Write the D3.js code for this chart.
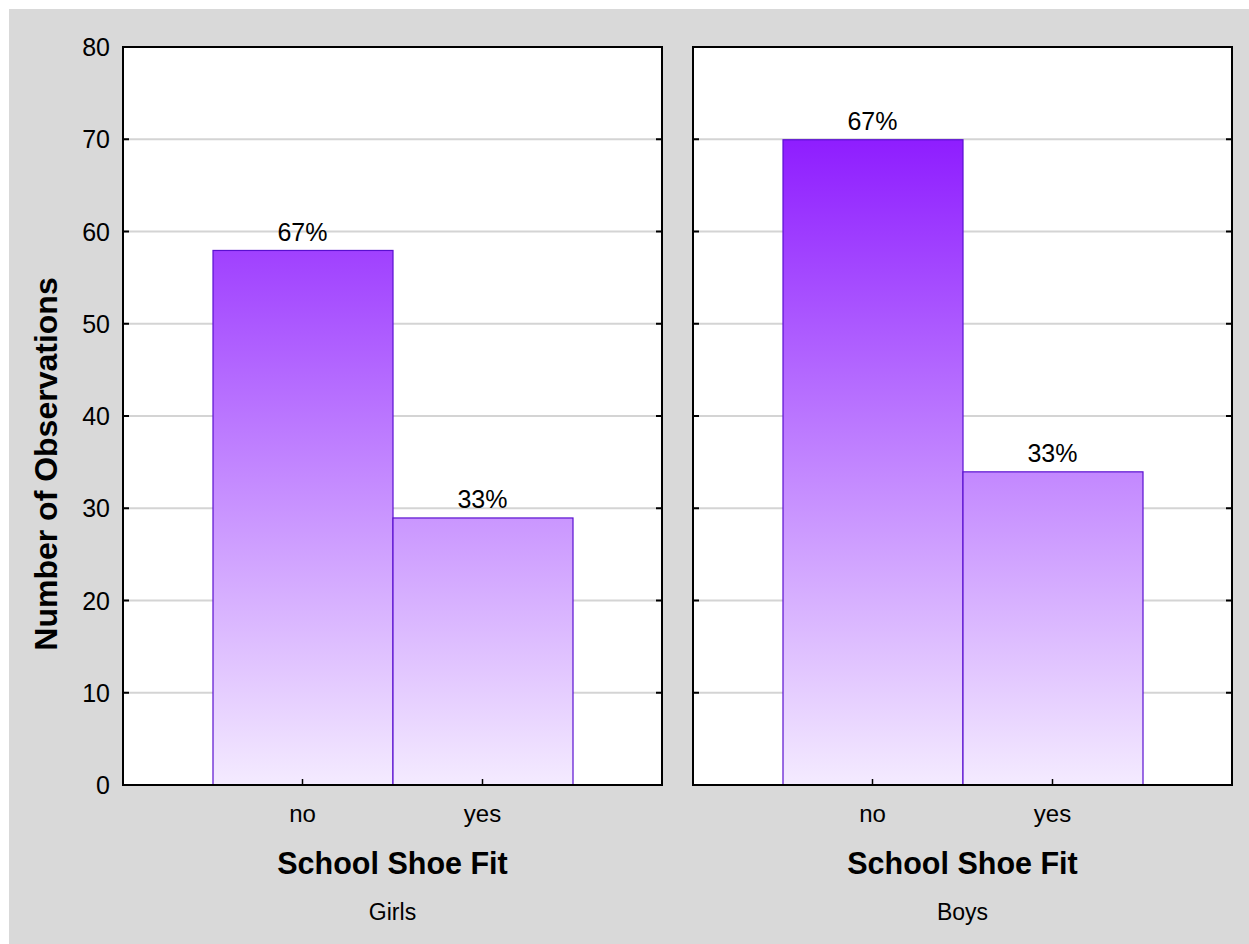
<!DOCTYPE html>
<html>
<head>
<meta charset="utf-8">
<script src="https://cdn.jsdelivr.net/npm/d3@7/dist/d3.min.js"></script>
<style>
  html, body { margin: 0; padding: 0; background: #ffffff; }
  svg { display: block; }
  text { font-family: "Liberation Sans", Arial, sans-serif; fill: #000; }
</style>
</head>
<body>
<svg id="chart" width="1249" height="944"></svg>
<script>
const panels = ["Girls", "Boys"];
const categories = ["no", "yes"];
const girlsValues = [58, 29];
const boysValues = [70, 34];
const percentLabels = [["67%", "33%"], ["67%", "33%"]];
const yTicks = [0, 10, 20, 30, 40, 50, 60, 70, 80];
const xTitle = "School Shoe Fit";
const yTitle = "Number of Observations";

(function () {
const seriesByPanel = [girlsValues, boysValues];

const svg = d3.select("#chart");
const W = 1249, H = 944;

svg.append("rect").attr("x", 9).attr("y", 9).attr("width", W - 9).attr("height", H - 9).attr("fill", "#d9d9d9");

const plotTop = 47, plotBottom = 785;
const y = d3.scaleLinear().domain([0, 80]).range([plotBottom, plotTop]);
const px = d3.scaleBand().domain(panels).range([123, 1232]).paddingInner(31 / 570);

const defs = svg.append("defs");
const grad = defs.append("linearGradient").attr("id", "barGrad")
  .attr("gradientUnits", "userSpaceOnUse")
  .attr("x1", 0).attr("x2", 0).attr("y1", y(80)).attr("y2", y(0));
grad.append("stop").attr("offset", "0%").attr("stop-color", "#8000ff");
grad.append("stop").attr("offset", "100%").attr("stop-color", "#f4ebff");

panels.forEach((p, pi) => {
  const x0 = px(p), bw = px.bandwidth();
  const cx = x0 + bw / 2;
  const xb = d3.scaleBand().domain(categories).range([cx - 180, cx + 180]).padding(0);
  const g = svg.append("g");

  g.append("rect").attr("x", x0).attr("y", plotTop).attr("width", bw).attr("height", plotBottom - plotTop).attr("fill", "#ffffff");

  g.selectAll("line.grid").data(yTicks.filter(t => t > 0 && t < 80)).enter().append("line")
    .attr("x1", x0).attr("x2", x0 + bw).attr("y1", d => y(d)).attr("y2", d => y(d))
    .attr("stroke", "#d4d4d4").attr("stroke-width", 2);

  const vals = seriesByPanel[pi];
  g.selectAll("rect.bar").data(categories).enter().append("rect")
    .attr("x", d => xb(d) + 0.5).attr("y", (d, i) => y(vals[i]) + 0.5)
    .attr("width", xb.bandwidth()).attr("height", (d, i) => y(0) - y(vals[i]) - 0.5)
    .attr("fill", "url(#barGrad)").attr("stroke", "#5a10d0").attr("stroke-width", 1.2);

  g.selectAll("text.pct").data(categories).enter().append("text")
    .attr("x", d => xb(d) + xb.bandwidth() / 2).attr("y", (d, i) => y(vals[i]) - 9)
    .attr("text-anchor", "middle").attr("font-size", 25).text((d, i) => percentLabels[pi][i]);

  yTicks.forEach(t => {
    g.append("line").attr("x1", x0).attr("x2", x0 + 6).attr("y1", y(t)).attr("y2", y(t)).attr("stroke", "#000").attr("stroke-width", 2);
    g.append("line").attr("x1", x0 + bw - 6).attr("x2", x0 + bw).attr("y1", y(t)).attr("y2", y(t)).attr("stroke", "#000").attr("stroke-width", 2);
  });
  categories.forEach(c => {
    const xc = xb(c) + xb.bandwidth() / 2;
    g.append("line").attr("x1", xc).attr("x2", xc).attr("y1", plotBottom).attr("y2", plotBottom - 6).attr("stroke", "#000").attr("stroke-width", 1.5);
    g.append("text").attr("x", xc).attr("y", plotBottom + 37).attr("text-anchor", "middle").attr("font-size", 24).text(c);
  });

  g.append("rect").attr("x", x0).attr("y", plotTop).attr("width", bw).attr("height", plotBottom - plotTop)
    .attr("fill", "none").attr("stroke", "#000").attr("stroke-width", 2);

  g.append("text").attr("x", cx).attr("y", 874).attr("text-anchor", "middle")
    .attr("font-size", 30.5).attr("font-weight", "bold").text(xTitle);
  g.append("text").attr("x", cx).attr("y", 920).attr("text-anchor", "middle")
    .attr("font-size", 23).text(p);

  if (pi === 0) {
    g.selectAll("text.ytick").data(yTicks).enter().append("text")
      .attr("x", x0 - 13).attr("y", d => y(d)).attr("dy", "0.36em")
      .attr("text-anchor", "end").attr("font-size", 25).text(d => d);
  }
});

svg.append("text").attr("transform", `translate(57,464) rotate(-90)`)
  .attr("text-anchor", "middle").attr("font-size", 32).attr("font-weight", "bold").text(yTitle);
})();
</script>
</body>
</html>
